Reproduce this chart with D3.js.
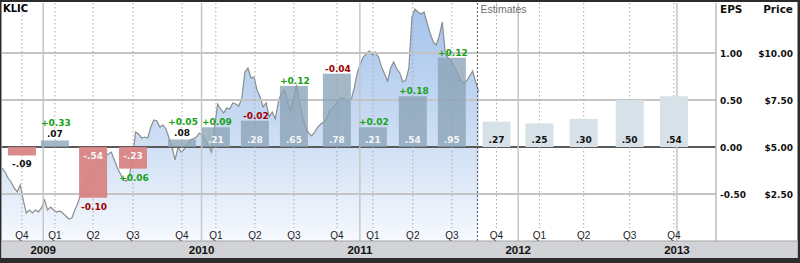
<!DOCTYPE html>
<html lang="en">
<head>
<meta charset="UTF-8">
<title>KLIC EPS</title>
<script src="https://cdn.jsdelivr.net/npm/d3@7"></script>
<style>
  html, body { margin: 0; padding: 0; background: #fff; }
  svg { display: block; }
</style>
</head>
<body>
<svg width="800" height="263"></svg>
<script>
const width = 800;
const height = 263;
const plot = {left: 2, right: 716, top: 3, bottom: 241};

// quarterly EPS (last five are estimates)
const quarters = ['Q4','Q1','Q2','Q3','Q4','Q1','Q2','Q3','Q4','Q1','Q2','Q3','Q4','Q1','Q2','Q3','Q4'];
const reportDates = ['2008-11-13','2009-01-28','2009-04-26','2009-07-27','2009-11-17','2010-02-03',
  '2010-05-04','2010-08-02','2010-11-09','2011-01-31','2011-05-03','2011-08-01','2011-11-12',
  '2012-02-19','2012-05-31','2012-09-14','2012-12-25'];
const eps = [-0.09, 0.07, -0.54, -0.23, 0.08, 0.21, 0.28, 0.65, 0.78, 0.21, 0.54, 0.95,
  0.27, 0.25, 0.30, 0.50, 0.54];
const surprise = [null, 0.33, -0.10, 0.06, 0.05, 0.09, -0.02, 0.12, -0.04, 0.02, 0.18, 0.12,
  null, null, null, null, null];
const firstEstimate = 12;
const estimatesFrom = '2011-09-29';

const years = ['2009', '2010', '2011', '2012', '2013'];
const epsTicks = [1, 0.5, 0, -0.5];
const priceTicks = [10, 7.5, 5, 2.5];

// weekly closing price
const priceStart = '2008-09-28';
const weeklyPrice = [
  3.88,3.67,3.35,3.14,2.82,2.61,2.98,2.18,1.49,1.65,
  1.49,1.65,1.54,1.76,2.18,1.65,1.81,1.65,1.54,1.60,
  1.49,1.33,1.17,1.22,1.65,2.02,2.55,3.03,3.30,3.46,
  3.67,3.99,4.26,4.20,4.52,4.63,4.73,4.31,3.88,3.56,
  3.24,3.19,3.51,4.41,5.80,5.69,5.48,5.53,5.48,6.06,
  6.44,6.38,6.06,6.17,5.96,5.48,5.00,4.31,5.00,4.73,
  4.89,5.16,5.37,5.43,5.53,5.74,5.59,5.37,5.05,4.73,
  6.01,7.29,7.02,6.81,7.07,7.02,7.34,7.29,7.18,7.61,
  8.99,9.20,8.67,8.72,8.03,7.66,7.13,7.34,6.60,6.86,
  6.49,7.39,7.87,8.03,7.45,6.91,7.50,8.30,7.39,6.60,
  6.06,5.74,5.59,5.80,6.06,6.22,6.33,6.54,6.97,7.07,
  7.29,7.55,7.61,7.55,7.45,7.50,8.14,8.94,9.41,9.79,
  9.95,10.11,9.89,10.05,9.79,9.26,8.88,8.51,9.20,9.52,
  9.15,8.94,8.46,8.56,9.20,11.91,12.34,12.18,12.07,12.18,
  11.60,11.06,10.59,10.43,10.90,11.65,9.95,9.73,9.57,9.26,
  8.94,8.56,8.40,8.51,8.78,9.04,8.46,7.93
];

const parse = d3.timeParse('%Y-%m-%d');
const bars = eps.map((v, i) => ({
  q: quarters[i], date: parse(reportDates[i]), v, s: surprise[i], est: i >= firstEstimate
}));
const prices = weeklyPrice.map((p, i) => ({date: d3.timeDay.offset(parse(priceStart), 7 * i), p}));

const x = d3.scaleTime()
  .domain([parse('2008-09-28'), parse('2013-04-01')])
  .range([plot.left, plot.right]);
const y = d3.scaleLinear().domain([-1, 1.5]).range([plot.bottom, 6]);
const yPrice = d3.scaleLinear().domain([0, 12.5]).range([plot.bottom, 6]);

// plain hyphen for negatives, like the original
const locale = d3.formatLocale({decimal: '.', thousands: ',', grouping: [3], currency: ['$', ''], minus: '-'});
const f2 = locale.format('.2f');
const fmtVal = v => f2(v).replace('0.', '.');
const fmtSur = locale.format('+.2f');

const svg = d3.select('svg');
const defs = svg.append('defs');
const grad = defs.append('linearGradient').attr('id', 'area')
  .attr('gradientUnits', 'userSpaceOnUse')
  .attr('x1', 0).attr('y1', 0).attr('x2', 0).attr('y2', plot.bottom);
grad.append('stop').attr('offset', 0).attr('stop-color', '#a3c2ec');
grad.append('stop').attr('offset', 0.6).attr('stop-color', '#cfdff4');
grad.append('stop').attr('offset', 1).attr('stop-color', '#f6f9fe');

// frame
svg.append('rect').attr('width', width).attr('height', height).attr('fill', '#2c2c2c');
svg.append('rect').attr('x', 1.5).attr('y', 2).attr('width', 796).attr('height', 256).attr('fill', '#fff');

// price area + line
const area = d3.area().x(d => x(d.date)).y0(plot.bottom).y1(d => yPrice(d.p));
const line = d3.line().x(d => x(d.date)).y(d => yPrice(d.p));
svg.append('path').datum(prices).attr('d', area).attr('fill', 'url(#area)');
svg.append('path').datum(prices).attr('d', line)
  .attr('fill', 'none').attr('stroke', '#8a8d91').attr('stroke-width', 1.2);

// horizontal grid
svg.append('g').selectAll('line').data(epsTicks).join('line')
  .attr('x1', plot.left).attr('x2', plot.right)
  .attr('y1', d => y(d)).attr('y2', d => y(d))
  .attr('stroke', d => d === 0 ? '#5a5a5a' : '#c4c4c4')
  .attr('stroke-width', 2);

// year lines and quarter dotted lines
svg.append('g').selectAll('line').data(years).join('line')
  .attr('x1', d => x(parse(d + '-01-01'))).attr('x2', d => x(parse(d + '-01-01')))
  .attr('y1', plot.top).attr('y2', plot.bottom)
  .attr('stroke', '#c6c6c6').attr('stroke-width', 1.5);
svg.append('g').selectAll('line').data(bars).join('line')
  .attr('x1', d => x(d.date)).attr('x2', d => x(d.date))
  .attr('y1', plot.top).attr('y2', 228)
  .attr('stroke', '#a8a8a8').attr('stroke-dasharray', '1.5,2.5');
svg.append('line')
  .attr('x1', x(parse(estimatesFrom))).attr('x2', x(parse(estimatesFrom)))
  .attr('y1', plot.top).attr('y2', plot.bottom)
  .attr('stroke', '#555').attr('stroke-dasharray', '2,2');
svg.append('text').attr('x', x(parse(estimatesFrom)) + 3).attr('y', 13)
  .attr('font-family', 'Liberation Sans, Arial').attr('font-size', 10.5)
  .attr('fill', '#707070').text('Estimates');

// EPS bars
const bw = 28;
svg.append('g').selectAll('rect').data(bars).join('rect')
  .attr('x', d => x(d.date) - bw / 2).attr('width', bw)
  .attr('y', d => Math.min(y(d.v), y(0)))
  .attr('height', d => Math.abs(y(d.v) - y(0)))
  .attr('fill', d => d.est ? '#d6e1e8' : d.v < 0 ? '#d88484' : '#8aa3b6')
  .attr('fill-opacity', d => d.est ? 1 : d.v < 0 ? 0.95 : 0.78);

const inside = d => Math.abs(y(d.v) - y(0)) > 14;

const lab = svg.append('g')
  .attr('font-family', 'DejaVu Sans, Verdana').attr('font-size', 9)
  .attr('font-weight', 'bold').attr('text-anchor', 'middle');

lab.selectAll('text.val').data(bars).join('text').attr('class', 'val')
  .attr('x', d => x(d.date))
  .attr('y', d => {
    if (d.v >= 0) return inside(d) ? y(0) - 4 : y(d.v) - 3;
    return inside(d) ? y(0) + 12 : y(d.v) + 12;
  })
  .attr('fill', d => d.est ? '#111' : inside(d) ? '#f4f6f8' : '#111')
  .text(d => fmtVal(d.v));

lab.selectAll('text.sur').data(bars.filter(d => d.s !== null)).join('text').attr('class', 'sur')
  .attr('x', d => x(d.date) + 1)
  .attr('y', d => {
    if (d.v >= 0) return inside(d) ? y(d.v) - 2 : y(d.v) - 14;
    return inside(d) ? y(d.v) + 12 : y(d.v) + 23;
  })
  .attr('fill', d => d.s >= 0 ? '#16a116' : '#a00000')
  .text(d => fmtSur(d.s));

// ticker
svg.append('text').attr('x', 3).attr('y', 12)
  .attr('font-family', 'DejaVu Sans, Verdana').attr('font-size', 10).attr('font-weight', 'bold')
  .text('KLIC');

// right axis panel
svg.append('line').attr('x1', plot.right).attr('x2', plot.right)
  .attr('y1', plot.top).attr('y2', plot.bottom).attr('stroke', '#bdbdbd').attr('stroke-width', 1.5);
const axis = svg.append('g')
  .attr('font-family', 'DejaVu Sans, Verdana').attr('font-weight', 'bold').attr('fill', '#111');
axis.append('text').attr('x', 720).attr('y', 13).attr('font-size', 10.5).text('EPS');
axis.append('text').attr('x', 793).attr('y', 13).attr('font-size', 10.5)
  .attr('text-anchor', 'end').text('Price');
axis.selectAll('text.eps').data(epsTicks).join('text').attr('class', 'eps')
  .attr('x', 720).attr('y', d => y(d) + 3.5).attr('font-size', 9)
  .text(f2);
axis.selectAll('text.price').data(priceTicks).join('text').attr('class', 'price')
  .attr('x', 793).attr('y', d => yPrice(d) + 3.5).attr('font-size', 9)
  .attr('text-anchor', 'end').text(d => '$' + f2(d));

// quarter labels
svg.append('g').selectAll('text').data(bars).join('text')
  .attr('x', d => x(d.date)).attr('y', 239)
  .attr('text-anchor', 'middle')
  .attr('font-family', 'Liberation Sans, Arial').attr('font-size', 10).attr('fill', '#222')
  .text(d => d.q);

// year band
svg.append('rect').attr('x', 1.5).attr('y', plot.bottom).attr('width', 796).attr('height', 17)
  .attr('fill', '#d1d3d6');
svg.append('line').attr('x1', 1.5).attr('x2', 797.5).attr('y1', plot.bottom).attr('y2', plot.bottom)
  .attr('stroke', '#a6a6a6');
svg.append('g').selectAll('text').data(years).join('text')
  .attr('x', d => x(parse(d + '-01-01'))).attr('y', 254)
  .attr('text-anchor', 'middle')
  .attr('font-family', 'Liberation Sans, Arial').attr('font-size', 11.5).attr('font-weight', 'bold')
  .attr('fill', '#111')
  .text(d => d);
</script>
</body>
</html>
